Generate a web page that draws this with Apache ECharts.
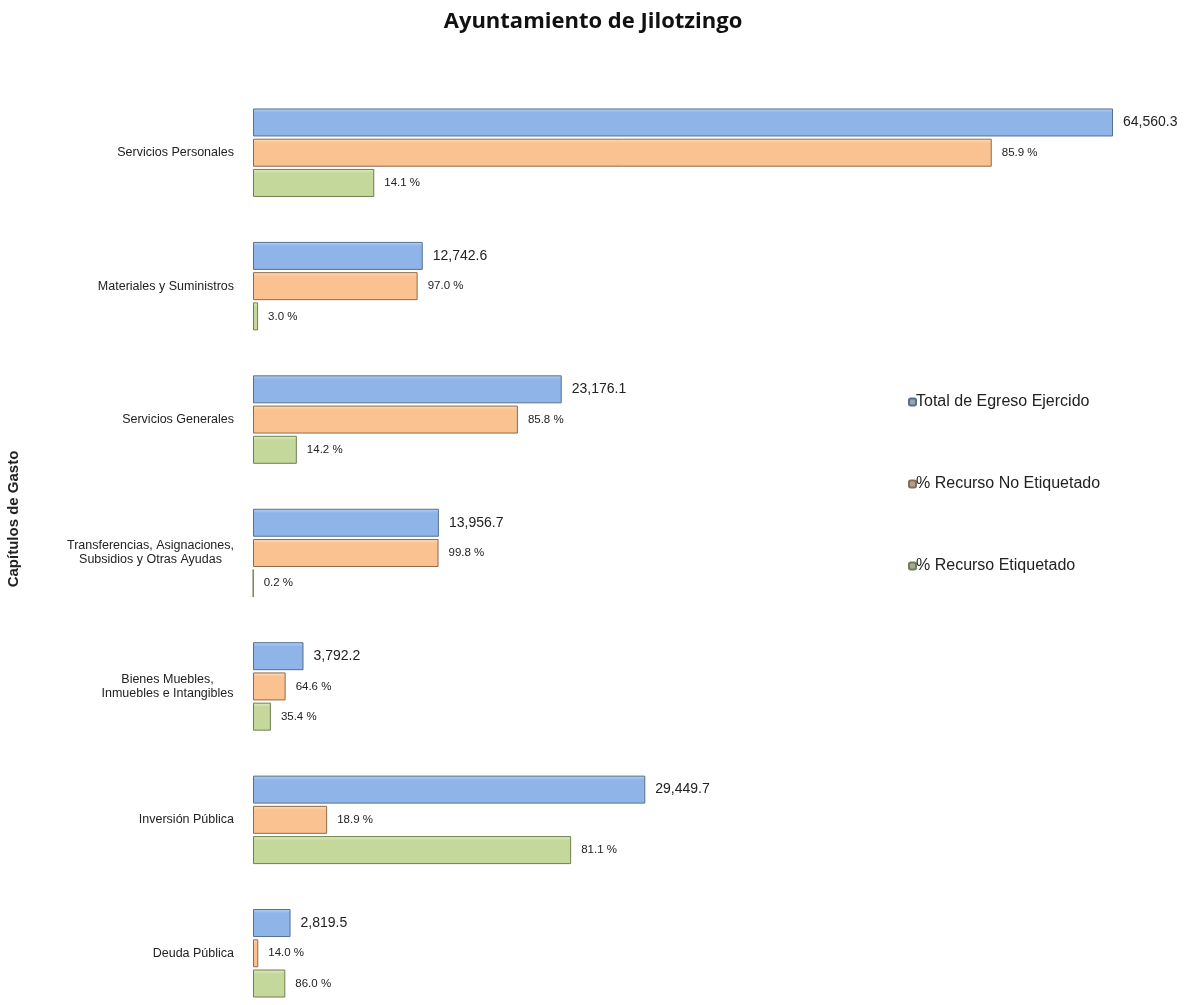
<!DOCTYPE html>
<html>
<head>
<meta charset="utf-8">
<script src="https://cdn.jsdelivr.net/npm/echarts@6/dist/echarts.min.js"></script>
<style>
  html, body { margin: 0; padding: 0; background: #fff; }
  #main { width: 1186px; height: 1005px; }
</style>
</head>
<body>
<div id="main"></div>
<script>
  // capitulos de gasto
  var categories = [
    'Servicios Personales',
    'Materiales y Suministros',
    'Servicios Generales',
    'Transferencias, Asignaciones,\nSubsidios y Otras Ayudas',
    'Bienes Muebles,\nInmuebles e Intangibles',
    'Inversión Pública',
    'Deuda Pública'
  ];
  var totalEgreso = [64560.3, 12742.6, 23176.1, 13956.7, 3792.2, 29449.7, 2819.5];
  var pctNoEtiquetado = [85.9, 97.0, 85.8, 99.8, 64.6, 18.9, 14.0];
  var pctEtiquetado = [14.1, 3.0, 14.2, 0.2, 35.4, 81.1, 86.0];

  // the percentage bars are drawn as the share of the total amount
  var montoNoEtiq = totalEgreso.map(function (t, i) { return t * pctNoEtiquetado[i] / 100; });
  var montoEtiq = totalEgreso.map(function (t, i) { return t * pctEtiquetado[i] / 100; });

  var catFont = '12.5px "Liberation Sans", Arial';

  // two-line labels are centred line by line, like in the original
  var ctx = document.createElement('canvas').getContext('2d');
  ctx.font = catFont;
  var rich = {};
  var richName = {};
  categories.forEach(function (c, i) {
    if (c.indexOf('\n') < 0) return;
    var w = Math.max.apply(null, c.split('\n').map(function (l) { return ctx.measureText(l).width; }));
    richName[c] = 'c' + i;
    rich['c' + i] = { width: Math.ceil(w), align: 'center', lineHeight: 14 };
  });

  var chart = echarts.init(document.getElementById('main'));

  function grad(top, mid) {
    return new echarts.graphic.LinearGradient(0, 0, 0, 1, [
      { offset: 0, color: top },
      { offset: 0.15, color: mid },
      { offset: 1, color: mid }
    ]);
  }

  var labelBase = {
    show: true,
    position: 'right',
    distance: 10,
    color: '#222',
    fontFamily: 'Liberation Sans, Arial',
    fontSize: 11.5
  };

  chart.setOption({
    backgroundColor: '#fff',
    animation: false,
    title: {
      text: 'Ayuntamiento de Jilotzingo',
      left: 'center',
      top: 6,
      textStyle: { fontFamily: 'Open Sans', fontWeight: 'bold', fontSize: 22, color: '#111' }
    },
    legend: {
      orient: 'vertical',
      left: 903,
      top: 389,
      itemGap: 66,
      itemWidth: 7,
      itemHeight: 7,
      icon: 'roundRect',
      textStyle: { fontFamily: 'Liberation Sans, Arial', fontSize: 16, color: '#222', padding: [0, 0, 0, -5] },
      data: [
        { name: 'Total de Egreso Ejercido', itemStyle: { color: '#9aa4b0' } },
        { name: '% Recurso No Etiquetado', itemStyle: { color: '#a8a29a' } },
        { name: '% Recurso Etiquetado', itemStyle: { color: '#a3a89a' } }
      ]
    },
    grid: { left: 253, top: 86, width: 860, height: 934, outerBoundsMode: 'none' },
    xAxis: {
      type: 'value',
      min: 0,
      max: Math.max.apply(null, totalEgreso),
      show: false
    },
    yAxis: {
      type: 'category',
      inverse: true,
      data: categories,
      name: 'Capítulos de Gasto',
      nameLocation: 'middle',
      nameGap: 232,
      nameTextStyle: {
        fontFamily: 'Liberation Sans, Arial', fontWeight: 'bold', fontSize: 15, color: '#222',
        padding: [0, 0, 0, 68]
      },
      axisLine: { show: false },
      axisTick: { show: false },
      axisLabel: {
        margin: 19,
        fontFamily: 'Liberation Sans, Arial',
        fontSize: 12.5,
        color: '#222',
        lineHeight: 14,
        rich: rich,
        formatter: function (v) {
          if (!richName[v]) return v;
          return v.split('\n').map(function (l) { return '{' + richName[v] + '|' + l + '}'; }).join('\n');
        }
      }
    },
    series: [
      {
        name: 'Total de Egreso Ejercido',
        type: 'bar',
        barWidth: 28,
        barGap: '8%',
        data: totalEgreso,
        itemStyle: { color: grad('#b9d4f5', '#8fb4e8'), borderColor: '#56718f', borderWidth: 1 },
        label: Object.assign({}, labelBase, {
          fontSize: 14,
          formatter: function (p) {
            return p.value.toLocaleString('en-US', { minimumFractionDigits: 1, maximumFractionDigits: 1 });
          }
        })
      },
      {
        name: '% Recurso No Etiquetado',
        type: 'bar',
        barWidth: 28,
        data: montoNoEtiq,
        itemStyle: { color: grad('#fde0c2', '#fac291'), borderColor: '#8f6a4a', borderWidth: 1 },
        label: Object.assign({}, labelBase, {
          formatter: function (p) { return pctNoEtiquetado[p.dataIndex].toFixed(1) + ' %'; }
        })
      },
      {
        name: '% Recurso Etiquetado',
        type: 'bar',
        barWidth: 28,
        data: montoEtiq,
        itemStyle: { color: grad('#e4efc4', '#c5d89c'), borderColor: '#6f7f50', borderWidth: 1 },
        label: Object.assign({}, labelBase, {
          formatter: function (p) { return pctEtiquetado[p.dataIndex].toFixed(1) + ' %'; }
        })
      }
    ]
  });
</script>
</body>
</html>
